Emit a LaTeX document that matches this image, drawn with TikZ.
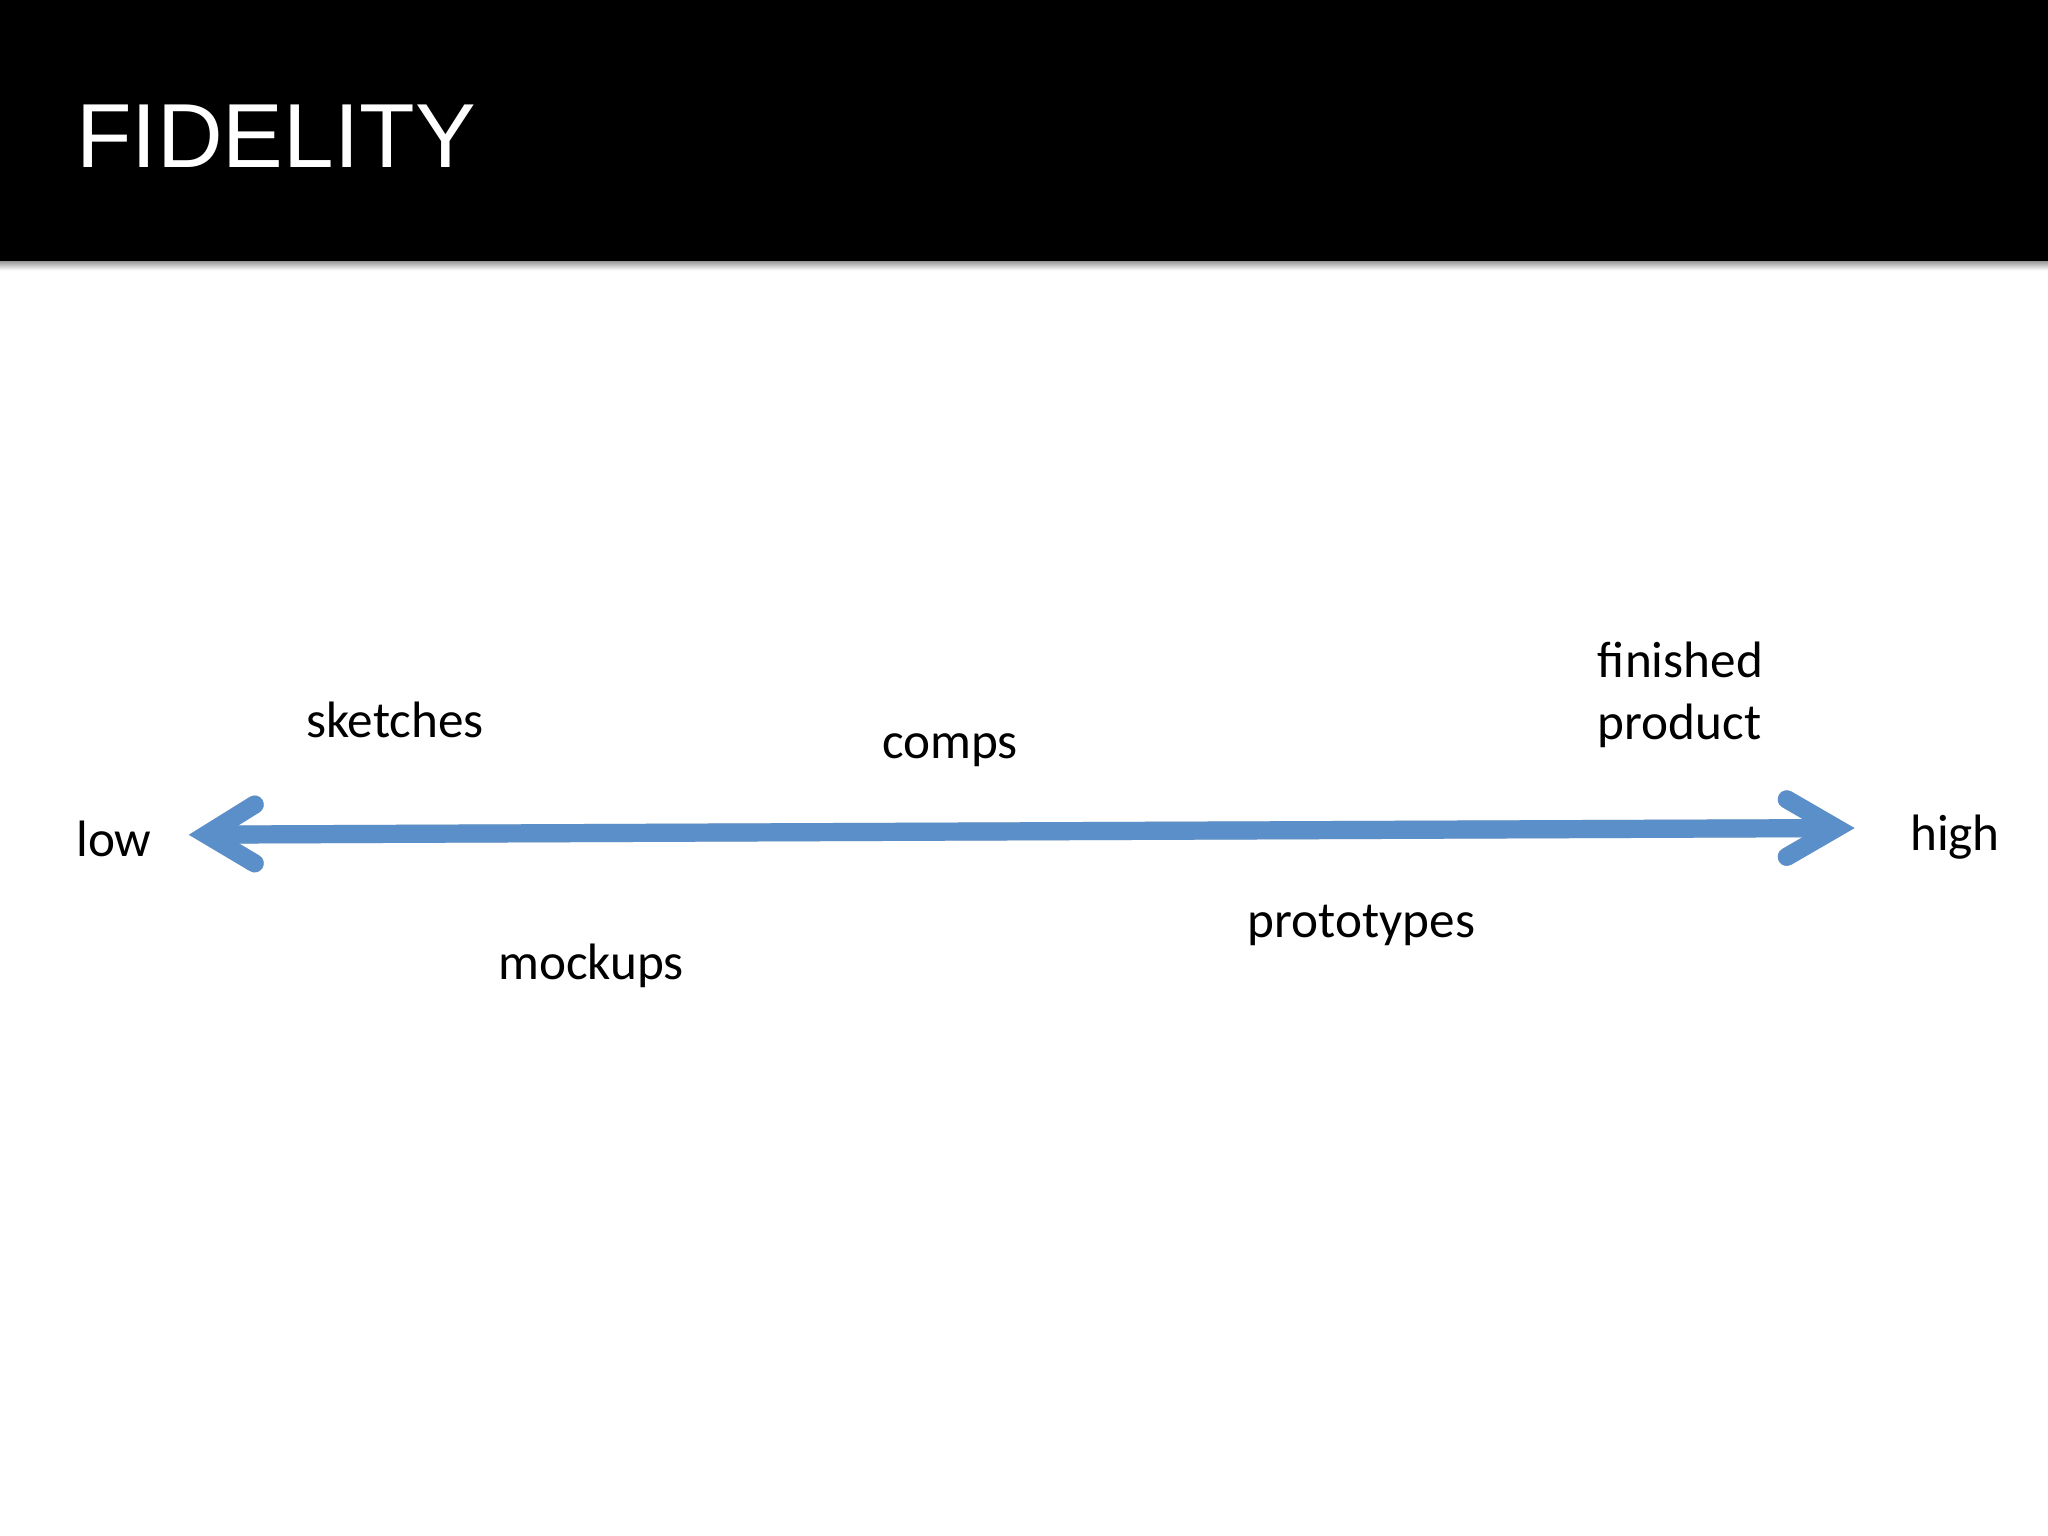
\documentclass[tikz,border=0pt]{standalone}
\usepackage{fontspec}
\setmainfont{Carlito}
\newfontfamily\titlefont{Liberation Sans}
\definecolor{arrowblue}{RGB}{91,143,201}
\begin{document}
\begin{tikzpicture}[x=0.459375pt,y=-0.459375pt,
  lbl/.style={anchor=base west,inner sep=0pt,font=\fontsize{18}{21.6}\selectfont,text=black},
  arm/.style={line width=6.4pt,draw=arrowblue,line cap=round,line join=miter},
  armshadow/.style={line width=6.4pt,draw=black,opacity=0.18,line cap=round,line join=miter}]
\useasboundingbox (0,0) rectangle (1568,1176);
\fill[white] (0,0) rectangle (1568,1176);
% header shadow
\shade[top color=black!45,bottom color=white] (0,199) rectangle (1568,207);
\fill[black] (0,0) rectangle (1568,200);
\node[anchor=base west,inner sep=0pt,text=white,font=\titlefont\fontsize{32}{38}\selectfont] (title) at (58,128) {FIDELITY};
% arrow
\coordinate (lo) at (158,639);
\coordinate (hi) at (1406,634);
\coordinate (loA) at (195,616);
\coordinate (loB) at (195,661);
\coordinate (hiA) at (1368,612);
\coordinate (hiB) at (1368,656);
\begin{scope}[shift={(2,3)}]
\draw[armshadow,line cap=butt] (lo) -- (hi);
\draw[armshadow] (loA) -- (lo) -- (loB);
\draw[armshadow] (hiA) -- (hi) -- (hiB);
\end{scope}
\draw[arm,line cap=butt] (lo) -- (hi);
\draw[arm] (loA) -- (lo) -- (loB);
\draw[arm] (hiA) -- (hi) -- (hiB);
% labels
\node[lbl] (low) at (58,656) {low};
\node[lbl] (high) at (1462,651) {high};
\node[lbl] (sketches) at (234,565) {sketches};
\node[lbl] (comps) at (675,581) {comps};
\node[lbl,align=left] (finished) at (1223,566) {finished\\product};
\node[lbl] (mockups) at (381,750) {mockups};
\node[lbl] (prototypes) at (955,718) {prototypes};
\end{tikzpicture}
\end{document}
